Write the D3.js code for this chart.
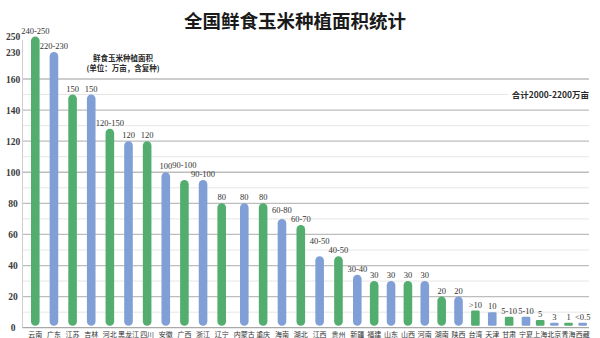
<!DOCTYPE html>
<html>
<head>
<meta charset="utf-8">
<script src="https://cdn.jsdelivr.net/npm/d3@7/dist/d3.min.js"></script>
<style>
  html, body { margin: 0; padding: 0; background: #ffffff; }
  svg { display: block; }
</style>
</head>
<body>
<script>
// Fresh-corn planting area by province (10k mu, incl. multiple cropping)
const provinces = ["云南","广东","江苏","吉林","河北","黑龙江","四川","安徽","广西","浙江",
  "辽宁","内蒙古","重庆","海南","湖北","江西","贵州","新疆","福建","山东",
  "山西","河南","湖南","陕西","台湾","天津","甘肃","宁夏","上海","北京","青海","西藏"];
const values = [250,230,150,150,128,120,120,100,95,95,
  80,80,80,70,66,46,46,34,30,30,
  30,30,20,20,11,10,7,7,5,3,1,0.5];
const valueLabels = ["240-250","220-230","150","150","120-150","120","120","100","90-100","90-100",
  "80","80","80","60-80","60-70","40-50","40-50","30-40","30","30",
  "30","30","20","20",">10","10","5-10","5-10","5","3","1","<0.5"];
const yTicks = [0,20,40,60,80,100,120,140,160,230,250];
const gridValues = d3.range(10, 170, 10);

const W = 600, H = 338;
const GREEN = "#52ad6f", BLUE = "#7f9fd6";

const svg = d3.select("body").append("svg").attr("width", W).attr("height", H);
svg.append("rect").attr("width", W).attr("height", H).attr("fill", "#ffffff");

// broken value axis: linear to 160, then compressed up to 250
const y = d3.scaleLinear().domain([0, 160, 230, 250]).range([327.7, 79, 52, 36.5]);

// category positions follow the label spacing of the axis
const x = d3.scaleLinear()
  .domain([0, 10, 11, 17, 27, 31])
  .range([35.3, 221.7, 244.3, 357.3, 526, 582.7]);

const xLeft = 22.5, xRight = 589;

// grid
svg.append("g").selectAll("line").data(gridValues).join("line")
  .attr("x1", xLeft).attr("x2", xRight)
  .attr("y1", d => y(d)).attr("y2", d => y(d))
  .attr("stroke", d => d % 20 === 0 ? "#bdbdbd" : "#e6e6e6")
  .attr("stroke-width", d => d % 20 === 0 ? 1.3 : 1);

// axes lines
svg.append("line").attr("x1", xLeft).attr("x2", xLeft).attr("y1", 40).attr("y2", y(0))
  .attr("stroke", "#cfcfcf").attr("stroke-width", 1);
svg.append("line").attr("x1", xLeft).attr("x2", xRight).attr("y1", y(0)).attr("y2", y(0))
  .attr("stroke", "#a8a8a8").attr("stroke-width", 1.2);

// y tick labels
svg.append("g").selectAll("text").data(yTicks).join("text")
  .attr("x", 13).attr("y", d => y(d) + 3.5)
  .attr("text-anchor", "middle")
  .attr("font-family", "'Liberation Serif', serif")
  .attr("font-size", 9.5).attr("font-weight", "bold")
  .attr("fill", "#3a3a3a")
  .text(d => d);

// bars
const barW = 8.6;
const base = y(0) - 2;
const bars = provinces.map((p, i) => {
  const top = Math.min(y(values[i]), base - 3);
  return { p, i, top, h: base - top };
});
svg.append("g").selectAll("rect").data(bars).join("rect")
  .attr("x", d => x(d.i) - barW / 2)
  .attr("y", d => d.top)
  .attr("width", barW)
  .attr("height", d => d.h)
  .attr("rx", d => d.h > 20 ? barW / 2 : Math.min(1.2, d.h / 2))
  .attr("fill", d => d.i % 2 === 0 ? GREEN : BLUE);

// value labels
const labels = svg.append("g").selectAll("text").data(bars).join("text")
  .attr("x", d => x(d.i))
  .attr("y", d => d.top - 3)
  .attr("text-anchor", "middle")
  .attr("font-family", "'Liberation Serif', serif")
  .attr("font-size", 8.5)
  .attr("fill", "#333")
  .text(d => valueLabels[d.i]);

// lift a label when it collides with its right-hand neighbour
const nodes = labels.nodes();
for (let i = nodes.length - 2; i >= 0; i--) {
  const a = nodes[i].getBBox(), b = nodes[i + 1].getBBox();
  const hOverlap = a.x + a.width > b.x + 0.5;
  const vOverlap = a.y < b.y + b.height && b.y < a.y + a.height;
  if (hOverlap && vOverlap) {
    const cur = +nodes[i].getAttribute("y");
    nodes[i].setAttribute("y", cur - (a.y + a.height - b.y) + 1);
  }
}

// category labels
svg.append("g").selectAll("text").data(bars).join("text")
  .attr("x", d => x(d.i))
  .attr("y", 337)
  .attr("text-anchor", "middle")
  .attr("font-family", "'Noto Sans CJK SC', sans-serif")
  .attr("font-size", 7)
  .attr("fill", "#333")
  .text(d => d.p);

// title
svg.append("text")
  .attr("x", 295).attr("y", 28)
  .attr("text-anchor", "middle")
  .attr("font-family", "'Noto Sans CJK SC', sans-serif")
  .attr("font-size", 18.5).attr("font-weight", "bold")
  .attr("fill", "#1a1a1a")
  .text("全国鲜食玉米种植面积统计");

// unit note
const note = svg.append("g").attr("font-family", "'Noto Sans CJK SC', sans-serif")
  .attr("text-anchor", "middle").attr("fill", "#2a2a2a").attr("font-size", 7.5);
note.append("text").attr("x", 123).attr("y", 61).attr("font-weight", "bold").text("鲜食玉米种植面积");
note.append("text").attr("x", 123).attr("y", 71).attr("font-weight", "bold").text("(单位：万亩，含复种)");

// total note with white backing over the grid
const totalG = svg.append("g");
const backing = totalG.append("rect").attr("fill", "#ffffff");
const total = totalG.append("text")
  .attr("x", 589).attr("y", 98)
  .attr("text-anchor", "end")
  .attr("font-family", "'Noto Sans CJK SC', sans-serif")
  .attr("font-size", 8.5).attr("font-weight", "bold")
  .attr("fill", "#2a2a2a")
  .text("合计2000-2200万亩");
const bb = total.node().getBBox();
backing.attr("x", bb.x - 4).attr("y", bb.y).attr("width", bb.width + 6).attr("height", bb.height);
</script>
</body>
</html>
